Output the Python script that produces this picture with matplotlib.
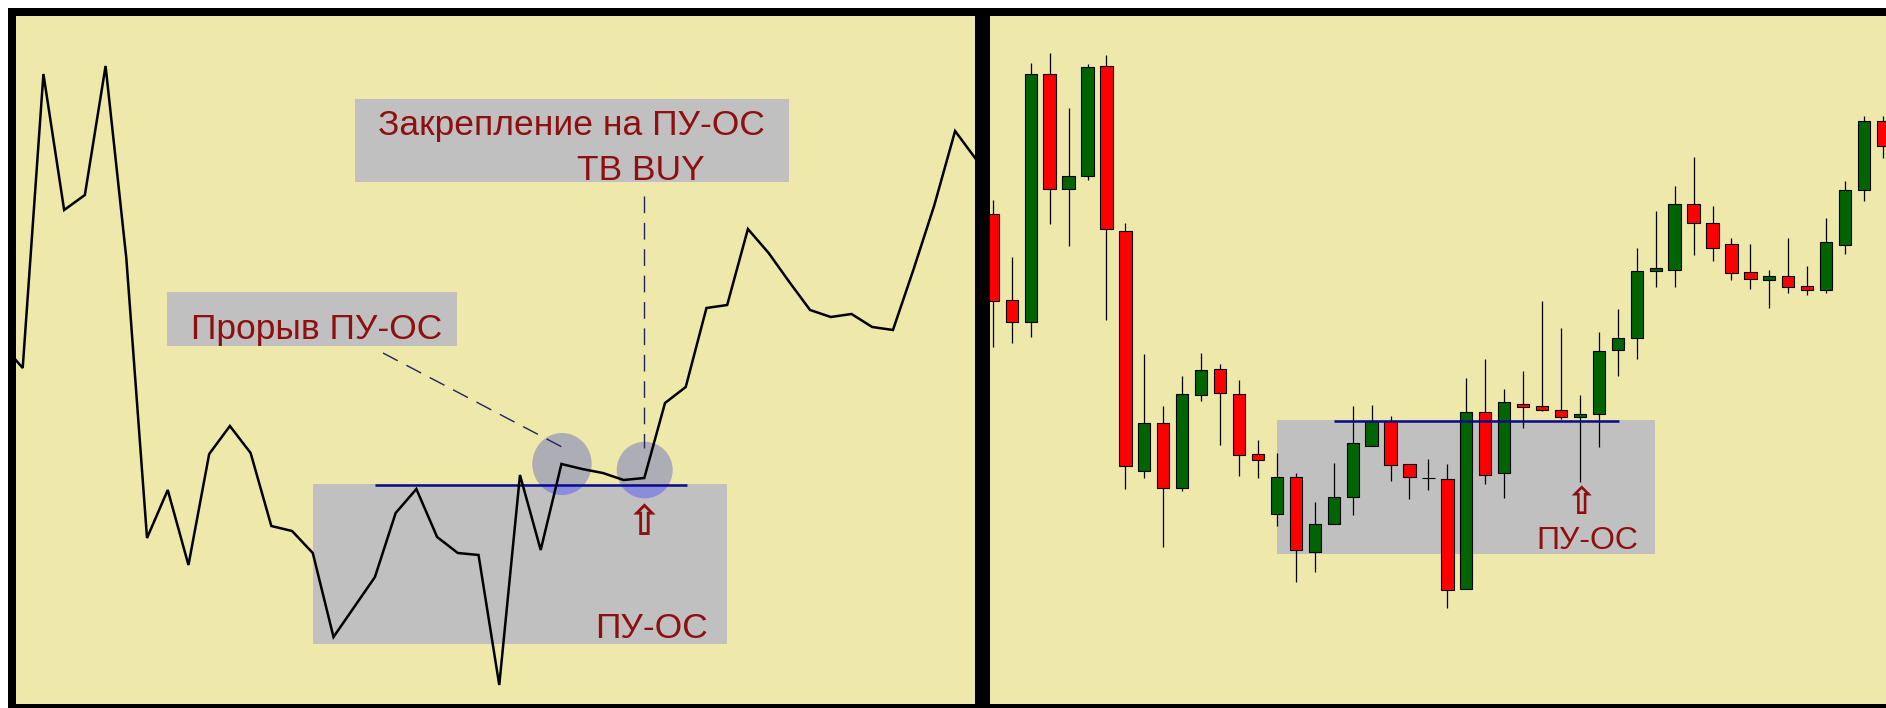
import matplotlib
matplotlib.use("Agg")
import matplotlib.pyplot as plt
from matplotlib.patches import Rectangle, Ellipse

# ---------------- data ----------------
# left panel: line chart (values in points)
line_values = [360, 336, 630, 494, 509, 638, 446, 166, 214, 139, 250, 278, 251, 178,
               173, 151, 67, 97, 127, 191, 215, 167, 151, 149, 19, 229, 154, 240,
               235, 231, 224, 226, 301, 317, 396, 399, 475, 451, 422, 394, 387, 390,
               377, 374, 435, 499, 573, 545]
line_start_index = -1
left_level = 219

# right panel: candles
c_open = [490, 404, 382, 630, 515, 528, 638, 473, 233, 281, 216, 309, 335, 310, 250, 190,
          227, 152, 180, 207, 258, 283, 240, 226, 225, 115, 292, 231, 300, 298, 294, 287,
          290, 354, 366, 433, 434, 500, 481, 460, 432, 424, 428, 418, 414, 459, 514, 583]
c_high = [504, 447, 641, 651, 596, 640, 649, 481, 350, 298, 328, 351, 340, 324, 264, 251,
          231, 202, 241, 298, 299, 288, 240, 245, 240, 326, 345, 315, 333, 403, 376, 309,
          372, 395, 456, 493, 518, 547, 498, 466, 460, 434, 466, 438, 486, 523, 588, 588]
c_low = [357, 361, 367, 480, 458, 524, 384, 215, 226, 157, 213, 303, 259, 228, 226, 178,
         122, 132, 180, 189, 258, 223, 205, 214, 96, 115, 220, 206, 276, 293, 285, 222,
         257, 328, 345, 417, 417, 449, 443, 424, 415, 396, 411, 409, 411, 450, 503, 546]
c_close = [403, 382, 630, 515, 528, 637, 475, 238, 281, 216, 310, 334, 311, 249, 244, 227,
           154, 180, 207, 261, 283, 239, 227, 226, 114, 292, 229, 302, 297, 294, 287, 290,
           353, 366, 433, 436, 500, 481, 456, 431, 425, 428, 417, 414, 462, 514, 583, 558]
right_level = 283

# ---------------- style ----------------
W, H = 1886, 708
BG = "#EEE8AA"
BOX = "#C0C0C0"
TXT = "#8E0F0F"
NAVY = "#0B0B8A"
FONT = ["Liberation Sans", "DejaVu Sans"]

fig = plt.figure(figsize=(W / 100, H / 100), dpi=100, facecolor="white")
fig.add_artist(Rectangle((8 / W, 0), (W - 8) / W, (H - 8) / H, transform=fig.transFigure,
                         facecolor="black", edgecolor="none", zorder=-5))

axL = fig.add_axes([16 / W, 4 / H, (975 - 16) / W, 688 / H])
axR = fig.add_axes([990 / W, 4 / H, (W - 990) / W, 688 / H])
for ax in (axL, axR):
    ax.set_facecolor(BG)
    ax.set_xticks([])
    ax.set_yticks([])
    for s in ax.spines.values():
        s.set_visible(False)
    ax.set_ylim(0, 688)

# pixel -> data helpers (layout positions only)
LX0, LDX = 22.7, 20.72
RX0, RDX = 992.8, 18.94


def lx(px):
    return (px - LX0) / LDX


def rx(px):
    return (px - RX0) / RDX


def yy(py):
    return 704 - py


axL.set_xlim(lx(16), lx(975))
axR.set_xlim(rx(990), rx(W))

# ---------------- left panel ----------------
xs = list(range(line_start_index, line_start_index + len(line_values)))


def box(ax, fx, x0, x1, y0, y1, z=1):
    ax.add_patch(Rectangle((fx(x0), yy(y1)), fx(x1) - fx(x0), yy(y0) - yy(y1),
                           facecolor=BOX, edgecolor="none", zorder=z))


box(axL, lx, 355, 789, 99, 182)
box(axL, lx, 167, 457, 291.5, 345.7)
box(axL, lx, 313, 727, 484, 644)

# circles (gray on yellow, bluish over the zone box)
zone_clip = Rectangle((lx(313), yy(644)), lx(727) - lx(313), yy(484) - yy(644),
                      transform=axL.transData, facecolor="none", edgecolor="none")
for cx, cy, rxp, ryp in [(562, 464, 29.7, 31), (644.7, 470, 28, 28.3)]:
    axL.add_patch(Ellipse((lx(cx), yy(cy)), 2 * rxp / LDX, 2 * ryp, facecolor="#ADADB5",
                          edgecolor="none", zorder=2))
    e2 = Ellipse((lx(cx), yy(cy)), 2 * rxp / LDX, 2 * ryp, facecolor="#8C8CDC",
                 edgecolor="none", zorder=2.1)
    axL.add_patch(e2)
    e2.set_clip_path(zone_clip)

# dashed leader lines
axL.plot([lx(383), lx(562)], [yy(353), yy(447)], color="#22225E", lw=1.0,
         dashes=(12, 7), zorder=3)
axL.plot([lx(644.3), lx(644.3)], [yy(196), yy(448)], color="#22225E", lw=1.0,
         dashes=(12, 7), zorder=3)

# level line
axL.hlines(left_level, 17, lx(687), color=NAVY, lw=1.8, zorder=4)

# price line
axL.plot(xs, line_values, color="black", lw=1.8, zorder=5, solid_joinstyle="miter")

# texts
FS = 25.5
axL.text(lx(571.7), yy(135), "Закрепление на ПУ-ОС", color=TXT, fontsize=FS,
         family=FONT, ha="center", va="baseline", zorder=6)
axL.text(lx(641), yy(180), "ТВ BUY", color=TXT, fontsize=FS,
         family=FONT, ha="center", va="baseline", zorder=6)
axL.text(lx(316.5), yy(339), "Прорыв ПУ-ОС", color=TXT, fontsize=FS,
         family=FONT, ha="center", va="baseline", zorder=6)
axL.text(lx(651), yy(638.4), "ПУ-ОС", color=TXT, fontsize=FS,
         family=FONT, ha="center", va="baseline", zorder=6)
axL.text(lx(644), yy(523), "⇧", color=TXT, fontsize=30, fontweight="bold",
         family=["DejaVu Sans"], ha="center", va="center", zorder=6)

# ---------------- right panel ----------------
box(axR, rx, 1276.5, 1655, 420, 553.5, z=0.5)

n = len(c_open)
cx = list(range(n))
up = [c >= o for o, c in zip(c_open, c_close)]
axR.vlines(cx, c_low, c_high, color="black", lw=0.9, zorder=2)
bottoms = [min(o, c) for o, c in zip(c_open, c_close)]
heights = [abs(c - o) for o, c in zip(c_open, c_close)]
colors = ["#006400" if u else "#FF0000" for u in up]
axR.bar(cx, heights, bottom=bottoms, width=0.65, color=colors, edgecolor="black",
        linewidth=0.8, zorder=3)

axR.hlines(right_level, rx(1334), rx(1619), color=NAVY, lw=1.8, zorder=4)

axR.text(rx(1587), yy(549), "ПУ-ОС", color=TXT, fontsize=23,
         family=FONT, ha="center", va="baseline", zorder=6)
axR.text(rx(1580.5), yy(504.5), "⇧", color=TXT, fontsize=27, fontweight="bold",
         family=["DejaVu Sans"], ha="center", va="center", zorder=6)

fig.savefig("out.png", dpi=100, facecolor="white")
